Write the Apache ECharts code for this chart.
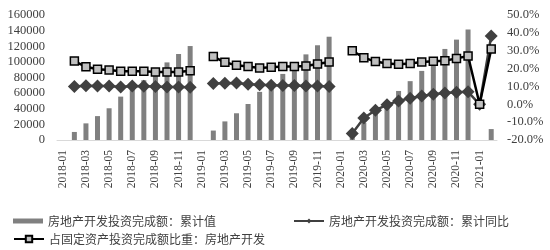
<!DOCTYPE html>
<html><head><meta charset="utf-8">
<script src="https://cdn.jsdelivr.net/npm/echarts@6/dist/echarts.min.js"></script>
<style>html,body{margin:0;padding:0;background:#fff}#c{width:550px;height:250px}</style>
</head><body><div id="c"></div>
<script>
const categories = ['2018-01','2018-02','2018-03','2018-04','2018-05','2018-06','2018-07','2018-08','2018-09','2018-10','2018-11','2018-12',
'2019-01','2019-02','2019-03','2019-04','2019-05','2019-06','2019-07','2019-08','2019-09','2019-10','2019-11','2019-12',
'2020-01','2020-02','2020-03','2020-04','2020-05','2020-06','2020-07','2020-08','2020-09','2020-10','2020-11','2020-12',
'2021-01','2021-02'];
const investCum = [null,10292,21291,30592,40632,55531,64691,76519,88948,99325,110083,120264,
null,12090,23803,34217,46075,61609,72843,84589,98008,109603,121265,132194,
null,10115,21963,33103,45920,62780,75325,88454,103484,116556,128492,141443,
null,13986];
const investYoY = [null,9.9,10.4,10.3,10.2,9.7,10.2,10.1,9.9,9.7,9.7,9.5,
null,11.6,11.8,11.9,11.2,10.9,10.6,10.5,10.5,10.3,10.2,9.9,
null,-16.3,-7.7,-3.3,-0.3,1.9,3.4,4.6,5.6,6.3,6.8,7.0,
0,38.3];
const shareFAI = [null,24.2,21.0,19.6,19.2,18.5,18.5,18.5,18.1,18.1,18.1,18.8,
null,26.7,23.5,21.8,21.1,20.3,20.7,21.1,21.1,21.4,22.6,23.7,
null,30.0,26.1,23.9,22.9,22.4,22.9,23.7,24.1,24.4,25.7,27.0,
0,31.0];
const leftTicks = {min:0, max:160000, interval:20000};
const rightTicks = {min:-20, max:50, interval:10};
const names = ['房地产开发投资完成额：累计值','房地产开发投资完成额：累计同比','占固定资产投资完成额比重：房地产开发'];

const chart = echarts.init(document.getElementById('c'));
const serif = 'Liberation Serif';
const legText = {fontSize:12, color:'#404040', fontFamily:'Noto Sans CJK SC'};
chart.setOption({
  animation:false,
  grid:{left:57, right:53, top:15, bottom:110},
  legend:[
    {data:[names[0]], left:8, top:210, itemWidth:30, itemHeight:5, icon:'rect', textStyle:legText},
    {data:[names[1]], left:288, top:210, itemWidth:30, itemHeight:6, textStyle:legText},
    {data:[names[2]], left:8, top:228, itemWidth:30, itemHeight:8, textStyle:legText}
  ],
  xAxis:{type:'category', data:categories,
    axisLine:{lineStyle:{color:'#d9d9d9'}}, axisTick:{show:false},
    axisLabel:{rotate:90, interval:1, fontFamily:serif, fontSize:11.5, color:'#404040', margin:10}},
  yAxis:[
    {type:'value', min:leftTicks.min, max:leftTicks.max, interval:leftTicks.interval,
     splitLine:{show:false}, axisLine:{show:false}, axisTick:{show:false},
     axisLabel:{fontFamily:serif, fontSize:12.5, color:'#404040', margin:12, formatter:v=>String(v)}},
    {type:'value', min:rightTicks.min, max:rightTicks.max, interval:rightTicks.interval,
     splitLine:{show:false}, axisLine:{show:false}, axisTick:{show:false},
     axisLabel:{fontFamily:serif, fontSize:12.5, color:'#404040', margin:10, formatter:v=>v.toFixed(1)+'%'}}
  ],
  series:[
    {name:names[0], type:'bar', data:investCum, barWidth:5, itemStyle:{color:'#808080'}, yAxisIndex:0},
    {name:names[1], type:'line', data:investYoY, yAxisIndex:1, symbol:'diamond', symbolSize:13, showAllSymbol:true,
     lineStyle:{color:'#404040', width:2.5}, itemStyle:{color:'#404040', borderWidth:0}, z:3},
    {name:names[2], type:'line', data:shareFAI, yAxisIndex:1, symbol:'rect', symbolSize:8, showAllSymbol:true,
     lineStyle:{color:'#000', width:2.5}, itemStyle:{color:'#c0c0c0', borderColor:'#000', borderWidth:1.5}, z:4}
  ]
});
</script></body></html>
